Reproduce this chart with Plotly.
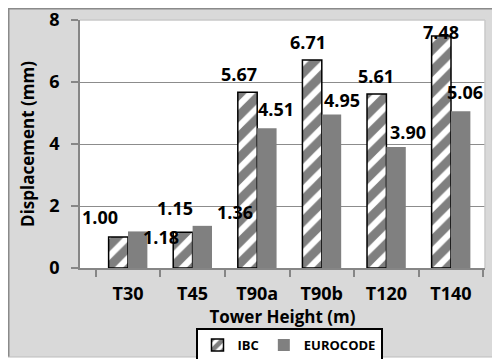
import plotly.graph_objects as go

categories = ["T30", "T45", "T90a", "T90b", "T120", "T140"]
ibc = [1.00, 1.15, 5.67, 6.71, 5.61, 7.48]
eurocode = [1.18, 1.36, 4.51, 4.95, 3.90, 5.06]
y_ticks = [0, 2, 4, 6, 8]

# label offsets (pixels) relative to bar top centre, as placed in the reference
ibc_dx = [-18, -8, -8, -4, 0, 0]
ibc_dy = [20, 24, 18, 18, 18, 4]
euro_dx = [23, 32, 9, 10, 12, 4]
euro_dy = [-6, 14, 19, 15, 15, 19]

FONT = "Open Sans"
OFF = 8  # page body margin
VW, VH = 500, 359
PL, PR, PT, PB = 80, 485, 20, 268  # plot area in viewport pixels
W, H = VW - OFF, VH - OFF
ML, MT = PL - OFF, PT - OFF
MR = VW - PR
MB = VH - PB
PW, PH = PR - PL, PB - PT


def px(x):
    return (x - PL) / PW


def py(y):
    return (PB - y) / PH


fig = go.Figure()
fig.add_trace(go.Bar(
    x=categories, y=ibc, name="IBC",
    marker=dict(color="white", line=dict(color="black", width=1.5),
                pattern=dict(shape="/", fgcolor="black", bgcolor="white",
                             size=15, solidity=0.6)),
))
fig.add_trace(go.Bar(
    x=categories, y=eurocode, name="EUROCODE",
    marker=dict(color="#808080", line=dict(width=0)),
))

ann = []
for i, c in enumerate(categories):
    ann.append(dict(x=c, y=ibc[i], xref="x", yref="y", text=f"{ibc[i]:.2f}",
                    showarrow=False, xanchor="center", yanchor="middle",
                    xshift=-10 + ibc_dx[i], yshift=ibc_dy[i],
                    font=dict(family=FONT, size=18, color="black", weight="bold")))
    ann.append(dict(x=c, y=eurocode[i], xref="x", yref="y", text=f"{eurocode[i]:.2f}",
                    showarrow=False, xanchor="center", yanchor="middle",
                    xshift=10 + euro_dx[i], yshift=euro_dy[i],
                    font=dict(family=FONT, size=18, color="black", weight="bold")))

shapes = [
    dict(type="rect", xref="paper", yref="paper", x0=px(0), x1=px(VW), y0=py(VH), y1=py(357),
         fillcolor="white", line=dict(width=0), layer="below"),
    dict(type="line", xref="paper", yref="paper", x0=px(OFF), x1=px(VW), y0=py(OFF + 0.5), y1=py(OFF + 0.5),
         line=dict(color="#8a8a8a", width=2), layer="below"),
    dict(type="line", xref="paper", yref="paper", x0=px(OFF + 0.5), x1=px(OFF + 0.5), y0=py(OFF), y1=py(357),
         line=dict(color="#8a8a8a", width=2), layer="below"),
    dict(type="line", xref="paper", yref="paper", x0=px(OFF), x1=px(VW), y0=py(357), y1=py(357),
         line=dict(color="#bcbcbc", width=1), layer="below"),
    dict(type="line", xref="paper", yref="paper", x0=0, x1=1, y0=1, y1=1,
         line=dict(color="#c8c8c8", width=1.5), layer="above"),
    dict(type="line", xref="paper", yref="paper", x0=1, x1=1, y0=0, y1=1,
         line=dict(color="#c8c8c8", width=1.5), layer="above"),
]

fig.update_layout(
    width=W, height=H,
    margin=dict(l=ML, r=MR, t=MT, b=MB, autoexpand=False),
    paper_bgcolor="#d9d9d9", plot_bgcolor="white",
    barmode="group", bargap=0.4, bargroupgap=0,
    font=dict(family=FONT, color="black"),
    showlegend=True,
    legend=dict(orientation="h", x=px(289), xanchor="center", y=py(328), yanchor="top",
                bgcolor="white", bordercolor="black", borderwidth=2,
                font=dict(family=FONT, size=13, color="black", weight="bold"),
                traceorder="normal", itemwidth=30, tracegroupgap=0),
    annotations=ann,
    shapes=shapes,
)
fig.update_xaxes(
    type="category", showline=True, linecolor="#868686", linewidth=1.5,
    ticks="outside", tickson="boundaries", ticklen=7, tickcolor="#868686", tickwidth=1.5,
    ticklabelstandoff=9, automargin=False,
    tickfont=dict(family=FONT, size=18, color="black", weight="bold"),
    title=dict(text="Tower Height (m)", standoff=0,
               font=dict(family=FONT, size=17, color="black", weight="bold")),
    showgrid=False,
)
fig.update_yaxes(
    range=[0, 8], tickvals=y_ticks, showline=True, linecolor="#868686", linewidth=1.5,
    ticks="outside", ticklen=7, tickcolor="#868686", tickwidth=1.5,
    ticklabelstandoff=8, automargin=False, ticklabeloverflow="allow",
    showgrid=True, gridcolor="#8c8c8c", gridwidth=1.2, zeroline=False,
    tickfont=dict(family=FONT, size=18, color="black", weight="bold"),
    title=dict(text="Displacement (mm)", standoff=10,
               font=dict(family=FONT, size=17, color="black", weight="bold")),
)

fig.write_html("out.html")
